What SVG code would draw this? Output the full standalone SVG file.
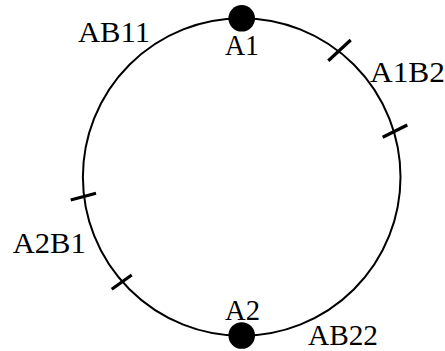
<svg xmlns="http://www.w3.org/2000/svg" width="445" height="351" viewBox="0 0 445 351">
<style>
.lbl{font-family:"Liberation Serif","DejaVu Serif",serif;font-size:30px;fill:#000}
.tick{stroke:#000;stroke-width:3.2;fill:none}
</style>
<rect width="445" height="351" fill="#fff"/>
<g id="connectors">
<circle cx="241.7" cy="177" r="158.8" fill="none" stroke="#000" stroke-width="2"/>
<line class="tick" x1="328.3" y1="60.7" x2="350.7" y2="40"/>
<line class="tick" x1="382.7" y1="137.3" x2="407.3" y2="125"/>
<line class="tick" x1="70.7" y1="200" x2="96" y2="193.3"/>
<line class="tick" x1="111.7" y1="289.3" x2="131.7" y2="275"/>
</g>
<g id="A1">
<circle cx="241.7" cy="18.3" r="13.3" fill="#000"/>
<text class="lbl" x="242" y="55" text-anchor="middle" textLength="34" lengthAdjust="spacingAndGlyphs">A1</text>
</g>
<g id="A2">
<circle cx="241.7" cy="335.5" r="13.3" fill="#000"/>
<text class="lbl" x="242.5" y="320" text-anchor="middle" textLength="35" lengthAdjust="spacingAndGlyphs">A2</text>
</g>
<g id="AB11"><text class="lbl" x="78" y="41.7" textLength="72" lengthAdjust="spacingAndGlyphs">AB11</text></g>
<g id="A1B2"><text class="lbl" x="370" y="81.7" textLength="75" lengthAdjust="spacingAndGlyphs">A1B2</text></g>
<g id="A2B1"><text class="lbl" x="12.7" y="253.3" textLength="73" lengthAdjust="spacingAndGlyphs">A2B1</text></g>
<g id="AB22"><text class="lbl" x="308" y="345" textLength="70" lengthAdjust="spacingAndGlyphs">AB22</text></g>
</svg>
